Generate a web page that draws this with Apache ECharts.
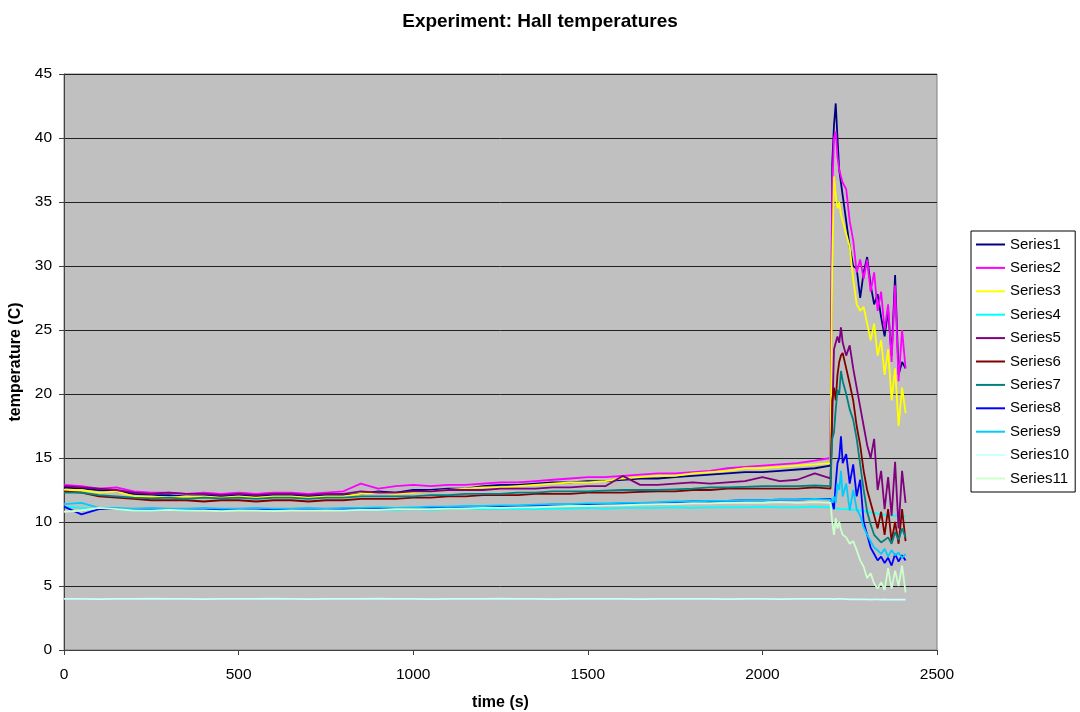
<!DOCTYPE html>
<html>
<head>
<meta charset="utf-8">
<script src="https://cdn.jsdelivr.net/npm/echarts@6/dist/echarts.min.js"></script>
<style>
html,body{margin:0;padding:0;background:#fff;}
#chart{width:1080px;height:712px;}
</style>
</head>
<body>
<div id="chart"></div>
<script>
// time stamps (s)
const times = [0,50,100,150,200,250,300,350,400,450,500,550,600,650,700,750,800,850,900,950,1000,1050,1100,1150,1200,1250,1300,1350,1400,1450,1500,1550,1600,1650,1700,1750,1800,1850,1900,1950,2000,2050,2100,2150,2195,
  2200,2205,2210,2215,2220,2225,2230,2240,2250,2260,2270,2280,2290,2300,2310,2320,2330,2340,2350,2360,2370,2380,2390,2400,2410];

const seriesNames = ["Series1","Series2","Series3","Series4","Series5","Series6","Series7","Series8","Series9","Series10","Series11"];
const seriesColors = ["#000080","#FF00FF","#FFFF00","#00FFFF","#800080","#800000","#008080","#0000FF","#00CCFF","#CCFFFF","#CCFFCC"];

const s1 = [12.7,12.6,12.5,12.4,12.2,12.1,12.1,12.0,12.1,12.0,12.1,12.0,12.1,12.1,12.0,12.1,12.1,12.2,12.4,12.3,12.5,12.5,12.6,12.6,12.8,12.9,12.9,13.0,13.1,13.1,13.2,13.2,13.3,13.4,13.4,13.5,13.6,13.7,13.8,13.9,13.9,14.0,14.1,14.2,14.4,
  38.0,41.0,42.7,40.0,37.5,36.5,35.5,33.5,31.5,30.0,29.8,27.5,29.5,30.7,28.5,27.0,27.8,26.0,24.5,26.5,23.0,29.3,21.5,22.5,22.0];
const s2 = [12.9,12.8,12.6,12.7,12.4,12.3,12.3,12.2,12.3,12.2,12.3,12.2,12.3,12.3,12.2,12.3,12.4,13.0,12.6,12.8,12.9,12.8,12.9,12.9,13.0,13.1,13.1,13.2,13.3,13.4,13.5,13.5,13.6,13.7,13.8,13.8,13.9,14.0,14.2,14.3,14.4,14.5,14.6,14.8,15.0,
  36.0,40.0,40.5,38.5,37.5,37.0,36.5,36.0,33.5,32.0,29.5,30.5,29.0,30.5,28.0,29.5,26.5,28.0,25.0,27.0,22.5,28.5,21.0,25.0,22.0];
const s3 = [12.5,12.5,12.3,12.4,12.0,12.0,11.9,12.0,12.0,11.9,12.0,11.9,12.0,12.0,11.9,12.0,12.0,12.2,12.3,12.2,12.3,12.4,12.5,12.6,12.7,12.7,12.8,12.9,13.0,13.1,13.1,13.2,13.4,13.5,13.6,13.6,13.8,13.9,14.0,14.2,14.2,14.3,14.4,14.5,14.6,
  30.0,37.0,35.5,34.5,35.0,34.0,33.5,32.5,31.5,29.0,27.0,26.5,26.8,25.5,24.2,25.5,23.0,24.2,21.5,23.5,19.5,22.0,17.5,20.5,18.5];
const s4 = [11.2,11.1,11.0,11.0,10.9,10.9,10.95,10.9,10.95,10.9,10.95,10.95,10.9,10.95,10.95,10.95,10.9,10.95,10.95,10.95,11.0,10.95,11.0,11.0,11.0,11.0,11.05,11.0,11.05,11.05,11.1,11.05,11.1,11.1,11.1,11.15,11.1,11.15,11.15,11.15,11.2,11.15,11.15,11.2,11.15,
  11.1,11.1,11.1,11.05,11.05,11.0,11.0,11.0,11.0,10.95,10.95,10.9,10.85,10.8,10.75,10.7,10.65,10.6,10.55,10.5,10.5,10.5,10.45,10.45,10.45];
const s5 = [12.8,12.7,12.6,12.5,12.3,12.2,12.3,12.2,12.2,12.1,12.2,12.1,12.2,12.2,12.1,12.2,12.2,12.4,12.3,12.3,12.4,12.4,12.5,12.5,12.5,12.6,12.6,12.6,12.7,12.7,12.8,12.8,13.6,12.9,12.9,13.0,13.1,13.0,13.1,13.2,13.5,13.2,13.3,13.8,13.4,
  18.0,23.5,24.0,24.5,24.0,25.2,24.0,23.0,23.8,22.0,20.5,19.0,17.5,16.0,15.0,16.5,12.5,14.0,11.0,13.5,10.5,14.7,9.5,14.0,11.5];
const s6 = [12.4,12.3,12.0,11.9,11.8,11.7,11.7,11.7,11.6,11.7,11.7,11.6,11.7,11.7,11.6,11.7,11.7,11.8,11.8,11.8,11.9,11.9,12.0,12.0,12.1,12.1,12.1,12.2,12.2,12.2,12.3,12.3,12.3,12.35,12.4,12.4,12.5,12.5,12.6,12.6,12.6,12.6,12.6,12.7,12.6,
  19.5,20.5,19.5,21.5,22.5,23.0,23.2,22.0,20.8,19.5,17.5,16.0,14.0,12.5,11.5,10.5,9.5,10.8,9.0,11.0,8.5,10.0,8.3,11.0,8.5];
const s7 = [12.3,12.3,12.1,12.0,11.9,11.85,11.9,11.8,11.9,11.85,11.9,11.8,11.9,11.9,11.8,11.9,11.9,12.0,12.0,12.0,12.0,12.1,12.1,12.2,12.2,12.2,12.3,12.3,12.4,12.4,12.4,12.45,12.5,12.5,12.5,12.55,12.6,12.7,12.7,12.75,12.8,12.8,12.8,12.85,12.8,
  16.5,17.0,18.8,20.3,20.0,21.8,21.0,20.0,18.8,18.0,16.5,14.5,12.5,10.8,9.8,9.0,8.7,8.4,8.6,8.8,8.3,9.2,8.6,9.5,8.8];
const s8 = [11.2,10.6,11.0,11.05,11.0,11.0,10.95,11.0,11.0,10.95,11.0,11.0,11.0,10.95,11.0,11.0,11.0,11.05,11.05,11.1,11.1,11.1,11.15,11.2,11.2,11.2,11.25,11.3,11.35,11.35,11.4,11.4,11.45,11.5,11.5,11.55,11.6,11.6,11.65,11.7,11.7,11.75,11.75,11.8,11.8,
  11.5,11.0,13.0,14.6,15.0,16.7,14.6,15.3,13.0,14.5,12.0,13.3,10.0,9.0,8.0,7.5,7.0,7.3,6.8,7.2,6.6,7.5,6.9,7.4,7.0];
const s9 = [11.4,11.5,11.1,11.1,11.05,11.1,11.05,11.05,11.1,11.05,11.05,11.1,11.05,11.05,11.1,11.05,11.1,11.1,11.15,11.1,11.15,11.2,11.2,11.25,11.25,11.3,11.3,11.35,11.4,11.4,11.45,11.45,11.5,11.5,11.55,11.6,11.6,11.65,11.65,11.7,11.7,11.75,11.75,11.8,11.75,
  11.5,12.0,11.5,13.0,12.5,14.0,12.0,13.0,10.9,12.5,11.0,10.5,9.6,9.0,8.5,8.0,7.8,7.5,7.9,7.3,7.8,7.4,7.6,7.2,7.5];
const s10 = [4.0,4.0,3.98,4.0,4.0,4.02,4.0,4.0,3.98,4.0,4.0,4.0,4.02,4.0,3.98,4.0,4.0,4.0,4.02,4.0,4.0,3.98,4.0,4.0,4.0,4.02,4.0,4.0,3.98,4.0,4.0,4.0,4.0,3.98,4.0,4.0,4.0,4.0,3.98,4.0,4.0,3.98,4.0,4.0,4.0,
  4.0,3.98,4.0,4.0,3.98,4.0,4.0,3.98,3.95,3.97,3.95,3.95,3.96,3.95,3.94,3.95,3.95,3.94,3.95,3.94,3.93,3.94,3.93,3.93,3.93];
const s11 = [10.8,10.9,11.1,11.0,10.9,10.9,10.95,10.9,10.9,10.85,10.9,10.9,10.85,10.9,10.9,10.9,10.9,10.95,10.95,11.0,11.0,11.0,11.05,11.05,11.1,11.1,11.15,11.15,11.2,11.25,11.25,11.3,11.3,11.35,11.4,11.4,11.45,11.45,11.5,11.5,11.5,11.55,11.5,11.55,11.5,
  10.0,9.0,10.3,9.5,10.0,9.4,9.0,8.8,8.3,8.5,7.8,7.0,6.5,5.6,6.0,5.2,4.8,5.3,4.7,6.4,4.8,6.2,5.0,6.6,4.5];

const allValues = [s1,s2,s3,s4,s5,s6,s7,s8,s9,s10,s11];

const xTicks = {min: 0, max: 2500, interval: 500};
const yTicks = {min: 0, max: 45, interval: 5};

const FONT = "'Liberation Sans', Arial, sans-serif";

const chart = echarts.init(document.getElementById('chart'), null, {renderer: 'canvas'});

const series = allValues.map((vals, i) => ({
  name: seriesNames[i],
  type: 'line',
  data: vals.map((v, k) => [times[k], v]),
  showSymbol: false,
  symbol: 'none',
  lineStyle: {color: seriesColors[i], width: 1.8},
  itemStyle: {color: seriesColors[i]},
  animation: false
}));

chart.setOption({
  animation: false,
  backgroundColor: '#ffffff',
  textStyle: {fontFamily: FONT},
  title: {
    text: 'Experiment: Hall temperatures',
    left: 'center',
    top: 7,
    textStyle: {fontFamily: FONT, fontSize: 19, fontWeight: 'bold', color: '#000'}
  },
  grid: {
    left: 64, right: 143, top: 74, bottom: 62,
    containLabel: false,
    outerBoundsMode: 'none',
    show: true,
    backgroundColor: '#C0C0C0',
    borderColor: '#808080',
    borderWidth: 1
  },
  legend: {
    orient: 'vertical',
    left: 971,
    top: 231,
    padding: [6, 6, 6, 5],
    itemGap: 8.4,
    itemWidth: 29,
    itemHeight: 2,
    icon: 'rect',
    borderColor: '#000',
    borderWidth: 1,
    backgroundColor: '#fff',
    textStyle: {fontFamily: FONT, fontSize: 15, color: '#000', lineHeight: 14, height: 14},
    data: seriesNames
  },
  xAxis: {
    type: 'value',
    min: xTicks.min, max: xTicks.max, interval: xTicks.interval,
    name: 'time (s)',
    nameLocation: 'middle',
    nameGap: 45,
    nameTextStyle: {fontFamily: FONT, fontSize: 16, fontWeight: 'bold', color: '#000'},
    axisLine: {show: true, lineStyle: {color: '#404040', width: 1}},
    axisTick: {show: true, inside: false, length: 5, lineStyle: {color: '#404040'}},
    axisLabel: {fontFamily: FONT, fontSize: 15.5, color: '#000', margin: 17, formatter: v => String(v)},
    splitLine: {show: false}
  },
  yAxis: {
    type: 'value',
    min: yTicks.min, max: yTicks.max, interval: yTicks.interval,
    name: 'temperature (C)',
    nameLocation: 'middle',
    nameGap: 31,
    nameRotate: 90,
    nameTextStyle: {fontFamily: FONT, fontSize: 16, fontWeight: 'bold', color: '#000'},
    axisLine: {show: true, lineStyle: {color: '#404040', width: 1}},
    axisTick: {show: true, inside: false, length: 5, lineStyle: {color: '#404040'}},
    axisLabel: {fontFamily: FONT, fontSize: 15.5, color: '#000', margin: 12},
    splitLine: {show: true, lineStyle: {color: '#202020', width: 1}}
  },
  series: series
});
</script>
</body>
</html>
